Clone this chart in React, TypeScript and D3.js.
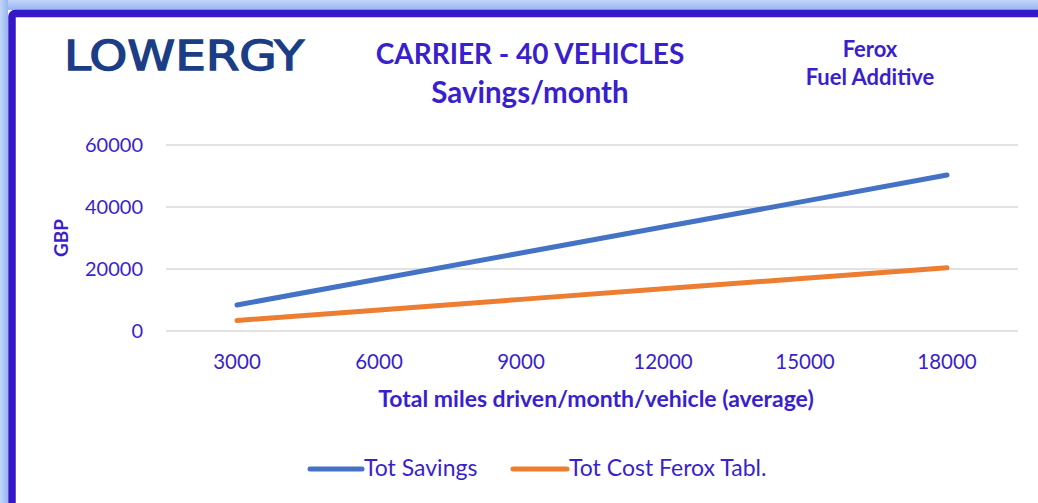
import React from "react";
import * as d3 from "d3";

const categories = ["3000", "6000", "9000", "12000", "15000", "18000"];
const totSavings = [8400, 16800, 25150, 33550, 41900, 50300];
const totCost = [3400, 6800, 10200, 13600, 17000, 20400];
const yTicks = [0, 20000, 40000, 60000];
const seriesNames = ["Tot Savings", "Tot Cost Ferox Tabl."];

const TXT = "#3a1fcc";
const FONT = "Lato, 'Open Sans', sans-serif";

export default function App() {
  const W = 1038, H = 503;
  const x = d3.scaleBand<string>().domain(categories).range([166, 1018]);
  const y = d3.scaleLinear().domain([0, 60000]).range([331, 145]);
  const cx = (c: string) => (x(c) as number) + x.bandwidth() / 2;
  const line = d3
    .line<number>()
    .x((_, i) => cx(categories[i]))
    .y((d) => y(d));

  const series = [
    { name: seriesNames[0], values: totSavings, color: "#4472c4" },
    { name: seriesNames[1], values: totCost, color: "#ed7d31" },
  ];

  const legend = [
    { x1: 310, x2: 362, tx: 364 },
    { x1: 513, x2: 567, tx: 569 },
  ];

  return (
    <svg
      width={W}
      height={H}
      style={{ position: "absolute", left: 0, top: 0, background: "#fff" }}
      fontFamily={FONT}
    >
      <defs>
        <linearGradient id="topg" x1="0" y1="0" x2="0" y2="1">
          <stop offset="0" stopColor="#c3d5fa" />
          <stop offset="1" stopColor="#97b6f3" />
        </linearGradient>
        <linearGradient id="leftg" x1="0" y1="0" x2="1" y2="0">
          <stop offset="0" stopColor="#c3d5fa" />
          <stop offset="1" stopColor="#97b6f3" />
        </linearGradient>
      </defs>
      {/* frame */}
      <rect x={0} y={0} width={W} height={10} fill="url(#topg)" />
      <rect x={0} y={0} width={8} height={H} fill="url(#leftg)" />
      <rect
        x={12}
        y={13.5}
        width={W + 20}
        height={H + 20}
        rx={3}
        fill="none"
        stroke="#3519c9"
        strokeWidth={7.5}
      />

      {/* logo */}
      <text
        x={64}
        y={70}
        fontFamily="'DejaVu Sans', sans-serif"
        fontSize={40}
        fill="#1b3d86"
        stroke="#1b3d86"
        strokeWidth={1.3}
        textLength={240}
        lengthAdjust="spacingAndGlyphs"
      >
        LOWERGY
      </text>

      {/* titles */}
      <text x={530} y={64} textAnchor="middle" fontWeight={700} fontSize={28} fill={TXT}>
        CARRIER - 40 VEHICLES
      </text>
      <text x={530} y={103} textAnchor="middle" fontWeight={700} fontSize={29.5} fill={TXT}>
        Savings/month
      </text>
      <text x={870} y={57} textAnchor="middle" fontWeight={700} fontSize={22} fill={TXT}>
        Ferox
      </text>
      <text x={870} y={85} textAnchor="middle" fontWeight={700} fontSize={22} fill={TXT}>
        Fuel Additive
      </text>

      {/* gridlines and y ticks */}
      {yTicks.map((t) => (
        <g key={t}>
          <line x1={166} x2={1018} y1={y(t)} y2={y(t)} stroke="#d9d9d9" strokeWidth={1.3} />
          <text x={143} y={y(t) + 7} textAnchor="end" fontSize={20} fill={TXT}>
            {t}
          </text>
        </g>
      ))}

      {/* x tick labels */}
      {categories.map((c) => (
        <text key={c} x={cx(c)} y={369} textAnchor="middle" fontSize={20.5} fill={TXT}>
          {c}
        </text>
      ))}

      {/* axis titles */}
      <text x={596} y={407} textAnchor="middle" fontWeight={700} fontSize={23} fill={TXT}>
        Total miles driven/month/vehicle (average)
      </text>
      <text
        transform="translate(68,238) rotate(-90)"
        textAnchor="middle"
        fontWeight={700}
        fontSize={19}
        fill={TXT}
      >
        GBP
      </text>

      {/* lines */}
      {series.map((s) => (
        <path
          key={s.name}
          d={line(s.values) || ""}
          fill="none"
          stroke={s.color}
          strokeWidth={5}
          strokeLinecap="round"
        />
      ))}

      {/* legend */}
      {series.map((s, i) => (
        <g key={s.name}>
          <line
            x1={legend[i].x1}
            x2={legend[i].x2}
            y1={469}
            y2={469}
            stroke={s.color}
            strokeWidth={5}
            strokeLinecap="round"
          />
          <text x={legend[i].tx} y={476} fontSize={23} fill={TXT}>
            {s.name}
          </text>
        </g>
      ))}
    </svg>
  );
}
